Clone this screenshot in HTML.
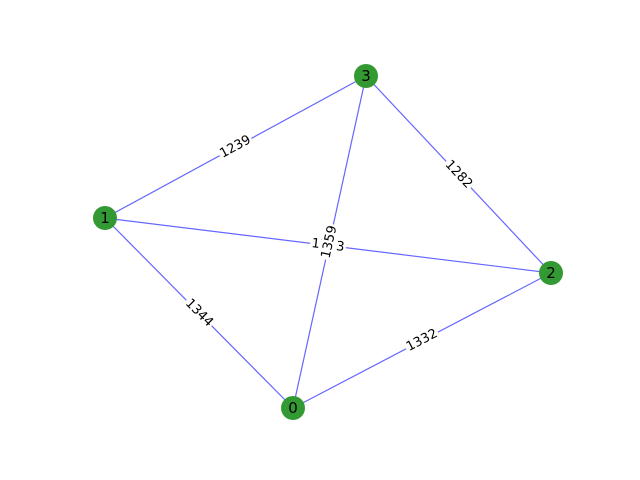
<!DOCTYPE html>
<html><head><meta charset="utf-8"><style>
html,body{margin:0;padding:0;background:#fff;width:640px;height:480px;overflow:hidden}
text{font-family:"DejaVu Sans","Liberation Sans",sans-serif}
</style></head><body>
<svg id="g" width="640" height="480" xmlns="http://www.w3.org/2000/svg"></svg>
<script>
const nodeIds=["0","1","2","3"];
const nodeX=[293,105,551,366];
const nodeY=[408,218,273,76];
const edgeFrom=[1,3,1,3,1,0];
const edgeTo=[3,2,2,0,0,2];
const edgeWeights=["1239","1282","1353","1359","1344","1332"];
const svg=document.getElementById('g');
const NS="http://www.w3.org/2000/svg";
const px=i=>nodeX[i], py=i=>nodeY[i];
edgeFrom.forEach((a,k)=>{
  const b=edgeTo[k];
  const l=document.createElementNS(NS,'line');
  l.setAttribute('x1',px(a));l.setAttribute('y1',py(a));
  l.setAttribute('x2',px(b));l.setAttribute('y2',py(b));
  l.setAttribute('stroke','#6666ff');l.setAttribute('stroke-width','1.2');
  
  
  svg.appendChild(l);
});
edgeFrom.forEach((a,k)=>{
  const b=edgeTo[k];
  const mx=(px(a)+px(b))/2,my=(py(a)+py(b))/2;
  let ang=Math.atan2(py(b)-py(a),px(b)-px(a))*180/Math.PI;
  if(ang>90)ang-=180; if(ang<-90)ang+=180;
  const gr=document.createElementNS(NS,'g');
  gr.setAttribute('transform','translate('+mx+','+my+') rotate('+ang+')');
  
  
  const r=document.createElementNS(NS,'rect');
  r.setAttribute('x',-18);r.setAttribute('y',-8);r.setAttribute('width',36);r.setAttribute('height',16);
  r.setAttribute('rx',3);r.setAttribute('fill','#fff');
  gr.appendChild(r);
  const t=document.createElementNS(NS,'text');
  t.setAttribute('text-anchor','middle');t.setAttribute('dominant-baseline','central');
  t.setAttribute('font-size','13');t.textContent=edgeWeights[k];
  gr.appendChild(t);
  svg.appendChild(gr);
});
nodeIds.forEach((id,i)=>{
  const c=document.createElementNS(NS,'circle');
  c.setAttribute('cx',px(i));c.setAttribute('cy',py(i));c.setAttribute('r',12);
  c.setAttribute('fill','#339933');
  
  
  svg.appendChild(c);
  const t=document.createElementNS(NS,'text');
  t.setAttribute('x',px(i));t.setAttribute('y',py(i));
  t.setAttribute('text-anchor','middle');t.setAttribute('dominant-baseline','central');
  t.setAttribute('font-size','15');t.textContent=id;
  
  
  svg.appendChild(t);
});
</script>
</body></html>
